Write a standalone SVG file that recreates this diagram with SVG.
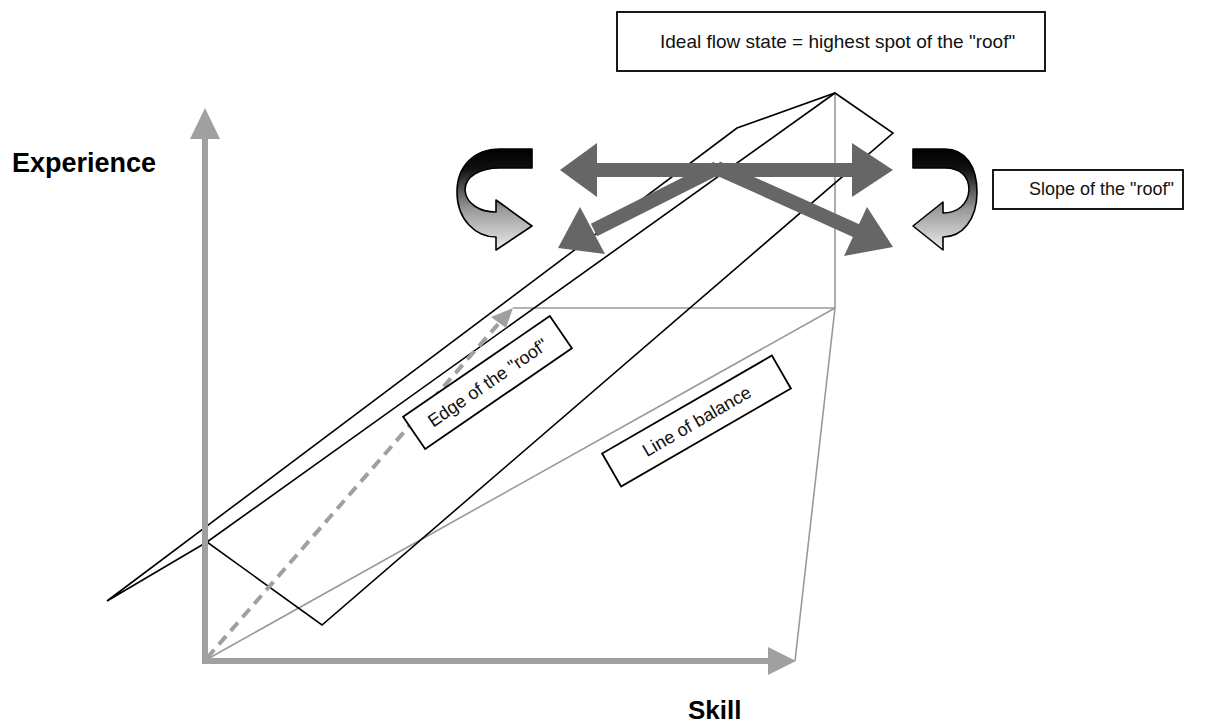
<svg xmlns="http://www.w3.org/2000/svg" width="1212" height="725" viewBox="0 0 1212 725">
<style>
.roof{fill:none;stroke:#000;stroke-width:1.6;stroke-linejoin:miter}
.thin{fill:none;stroke:#999;stroke-width:1.6}
.axis{fill:none;stroke:#a0a0a0;stroke-width:6}
.axhead{fill:#a0a0a0}
.big{fill:none;stroke:#666;stroke-width:14}
.bighead{fill:#666}
.box{fill:#fff;stroke:#000;stroke-width:1.8}
.lbl{font-family:"Liberation Sans",Arial,sans-serif;fill:#111}
.axlbl{font-family:"Liberation Sans",Arial,sans-serif;font-weight:bold;fill:#000}
.curv{stroke:#000;stroke-width:1.6;stroke-linejoin:round}
</style>
<defs>
<linearGradient id="g" x1="0" y1="0" x2="0" y2="1">
<stop offset="0" stop-color="#000"/>
<stop offset="0.2" stop-color="#111"/>
<stop offset="0.6" stop-color="#9a9a9a"/>
<stop offset="1" stop-color="#ececec"/>
</linearGradient>
</defs>
<g id="connectors">
<line class="thin" x1="204" y1="661" x2="835" y2="308"/>
<line class="thin" x1="513" y1="308" x2="835" y2="308"/>
<line class="thin" x1="835" y1="308" x2="835" y2="93"/>
<line class="thin" x1="835" y1="308" x2="795" y2="661"/>
<polygon class="roof" points="107,601 737,128 835,93 893,133 322,625 207,542"/>
<line class="roof" x1="207" y1="542" x2="835" y2="93"/>
<line x1="207" y1="658" x2="500" y2="322" stroke="#a0a0a0" stroke-width="4" stroke-dasharray="11,7"/>
<polygon class="axhead" points="513,308 491,317 506,328"/>
<line class="axis" x1="205" y1="664" x2="205" y2="136"/>
<polygon class="axhead" points="205,108 190,139 220,139"/>
<line class="axis" x1="202" y1="661" x2="770" y2="661"/>
<polygon class="axhead" points="796,661 768,647 768,675"/>
<line class="big" x1="595" y1="170" x2="854" y2="170"/>
<polygon class="bighead" points="560,170 597,143 597,197"/>
<polygon class="bighead" points="893,170 852,143 852,197"/>
<line class="big" x1="717" y1="168" x2="594" y2="230"/>
<polygon class="bighead" points="558,248 580,207 605,254"/>
<line class="big" x1="717" y1="168" x2="857" y2="231"/>
<polygon class="bighead" points="893,247 867,207 844,256"/>
</g>
<g id="curved-left">
<path class="curv" fill="url(#g)" d="M532,149 L500,149 C474,149 457,166 457,192 C457,220 476,237 496,237 L496,250 L532,226 L496,200 L496,212 C480,212 466,204 465,190 C465,176 480,168 500,168 L532,168 Z"/>
</g>
<g id="curved-right">
<path class="curv" fill="url(#g)" d="M913,149 L945,149 C965,149 977,166 977,192 C977,220 962,237 943,237 L943,250 L913,226 L943,202 L943,213 C958,213 968,204 969,190 C969,176 960,168 945,168 L913,168 Z"/>
</g>
<g id="ideal-flow">
<rect class="box" x="617" y="12" width="428" height="59" stroke-width="2"/>
<text class="lbl" x="660" y="48" font-size="19">Ideal flow state = highest spot of the "roof"</text>
</g>
<g id="slope">
<rect class="box" x="993" y="170" width="190" height="39"/>
<text class="lbl" x="1029" y="195" font-size="18">Slope of the "roof"</text>
</g>
<g id="edge" transform="translate(487.5,382.5) rotate(-34.5)">
<rect class="box" x="-89" y="-19.5" width="178" height="39"/>
<text class="lbl" x="0" y="6.5" font-size="18" text-anchor="middle">Edge of the "roof"</text>
</g>
<g id="balance" transform="translate(696.5,421) rotate(-30)">
<rect class="box" x="-98" y="-19" width="196" height="38"/>
<text class="lbl" x="0" y="6.5" font-size="18" text-anchor="middle">Line of balance</text>
</g>
<g id="experience">
<text class="axlbl" x="12" y="172" font-size="27">Experience</text>
</g>
<g id="skill">
<text class="axlbl" x="688" y="719" font-size="26">Skill</text>
</g>
</svg>
